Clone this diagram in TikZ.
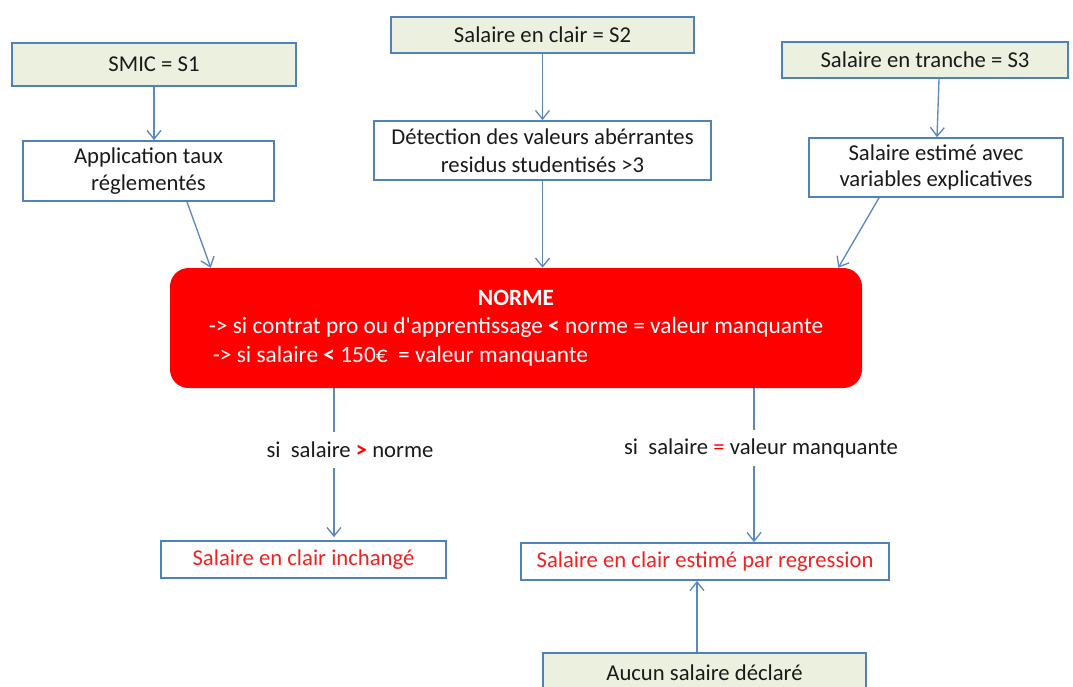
\documentclass[tikz,border=0pt]{standalone}
\usepackage{fontspec}
\setmainfont{Carlito}
\usetikzlibrary{arrows.meta,calc}
\definecolor{bord}{HTML}{4F81BD}
\definecolor{lien}{HTML}{5B88C2}
\definecolor{vert}{HTML}{EBF1DE}
\definecolor{rouge}{HTML}{FF0000}
\definecolor{rtext}{HTML}{EE2222}
\definecolor{txt}{HTML}{1A1A1A}
\begin{document}
\begin{tikzpicture}[x=0.75pt,y=-0.75pt,
  every node/.style={font=\fontsize{17}{20}\selectfont, text=txt},
  box/.style={draw=bord, line width=1.3pt, fill=white, inner sep=2pt, align=center},
  src/.style={box, fill=vert},
  res/.style={box, text=rtext},
  normebox/.style={fill=rouge, rounded corners=14pt, text=white, inner sep=0pt,
     font=\fontsize{17.5}{21.5}\selectfont},
  lbl/.style={inner sep=0pt, minimum height=27pt},
  conn/.style={draw=lien, line width=1pt},
  arr/.style={conn, -{Straight Barb[length=6.5pt,width=10.5pt]}}]
\useasboundingbox (0,0) rectangle (1073,686);
\clip (0,0) rectangle (1073,686);

% top row
\node[src, minimum width=213pt, minimum height=32.25pt] (smic) at (154,64.5) {SMIC = S1};
\node[src, minimum width=227.25pt, minimum height=27pt] (s2) at (542.5,35) {Salaire en clair = S2};
\node[src, minimum width=214.5pt, minimum height=27pt] (s3) at (925,60) {Salaire en tranche = S3};

% second row
\node[box, minimum width=188.25pt, minimum height=45pt] (app) at (148.5,171) {Application taux\\réglementés};
\node[box, minimum width=252.75pt, minimum height=44.25pt, font=\fontsize{17}{21}\selectfont] (det) at (542.5,150.5) {Détection des valeurs abérrantes\\residus studentisés >3};
\node[box, minimum width=190.5pt, minimum height=44.25pt] (est) at (936,167.5) {Salaire estimé avec\\variables explicatives};

% NORME
\node[normebox, minimum width=519pt, minimum height=90pt] (norme) at (516,328)
  {\begin{tabular}{@{}l@{}}
   \multicolumn{1}{@{}c@{}}{\bfseries NORME}\\
   -> si contrat pro ou d\textquotesingle apprentissage \textbf{<} norme = valeur manquante\\
   \hspace{3pt}-> si salaire \textbf{<} 150€ \ = valeur manquante
   \end{tabular}};

% labels
\node[lbl] (lbl1) at (350,450) {si \ salaire \textcolor{rouge}{\textbf{>}} norme};
\node[lbl] (lbl2) at (761,448) {si \ salaire \textcolor{rouge}{=} valeur manquante};

% results
\node[res, minimum width=213.75pt, minimum height=27.75pt] (inch) at (303.5,559.5) {Salaire en clair inchangé};
\node[res, minimum width=276pt, minimum height=27.75pt] (reg) at (705,561.5) {Salaire en clair estimé par regression};
\node[src, minimum width=242.25pt, minimum height=30pt] (aucun) at (704.5,673) {Aucun salaire déclaré};

% connectors top
\draw[arr] (smic.south) -- (smic.south |- app.north);
\draw[arr] ($(app.south)+(38.5,0)$) -- ($(norme.north west)+(41,0)$);
\draw[arr] (s2.south) -- (s2.south |- det.north);
\draw[arr] (det.south) -- (det.south |- norme.north);
\draw[arr] ($(s3.south)+(14,0)$) -- ($(est.north)+(1,0)$);
\draw[arr] ($(est.south)+(-57,0)$) -- ($(norme.north east)+(-24,0)$);

% connectors bottom
\coordinate (pl) at ($(norme.south)+(-182,0)$);
\coordinate (pr) at ($(norme.south)+(238,0)$);
\coordinate (pa) at ($(aucun.north)+(-7.5,0)$);
\draw[conn] (pl) -- (pl |- lbl1.north);
\draw[arr] (pl |- lbl1.south) -- ($(pl |- inch.north)+(0,-3)$);
\draw[conn] (pr) -- (pr |- lbl2.north);
\draw[arr] (pr |- lbl2.south) -- (pr |- reg.north);
\draw[arr] (pa) -- (pa |- reg.south);
\end{tikzpicture}
\end{document}
